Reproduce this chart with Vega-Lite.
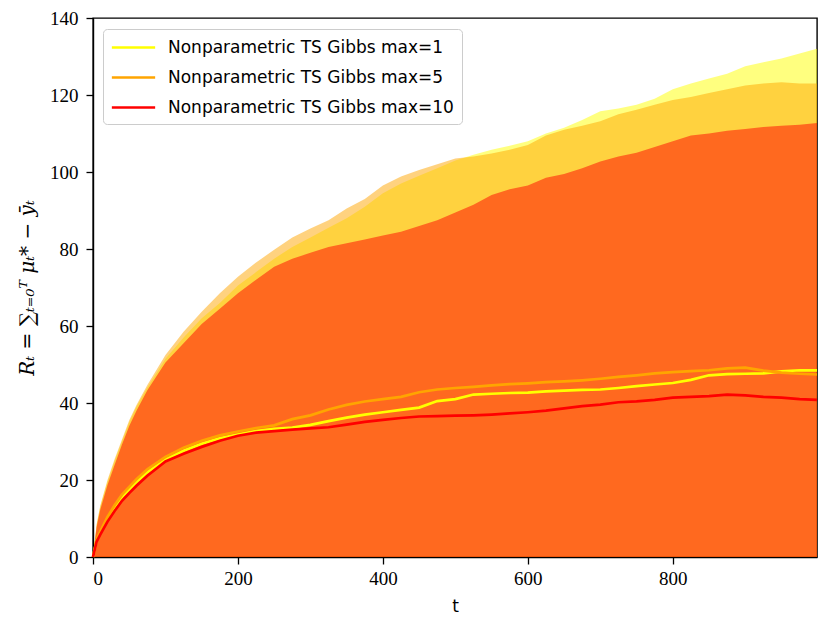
{
  "$schema": "https://vega.github.io/schema/vega-lite/v6.json",
  "width": 724,
  "height": 539,
  "autosize": "none",
  "padding": {"left": 93, "top": 18, "right": 14, "bottom": 74},
  "background": "white",
  "config": {
    "view": {"stroke": "black", "strokeWidth": 1.4},
    "axis": {
      "grid": false,
      "domainColor": "black",
      "domainWidth": 1.4,
      "tickColor": "black",
      "tickWidth": 1.3,
      "tickSize": 7,
      "labelFont": "Liberation Serif",
      "labelFontSize": 19,
      "labelColor": "black",
      "titleColor": "black",
      "titleFontWeight": "normal"
    }
  },
  "data": {
    "values": [
      {"t": 0, "m1": 0, "m5": 0, "m10": 0, "u1": 0, "u5": 0, "u10": 0},
      {"t": 5, "m1": 4.3, "m5": 4.5, "m10": 4.0, "u1": 8.3, "u5": 8.5, "u10": 7.8},
      {"t": 10, "m1": 6.3, "m5": 6.6, "m10": 5.8, "u1": 13, "u5": 13.3, "u10": 12.3},
      {"t": 20, "m1": 10, "m5": 10.4, "m10": 9.2, "u1": 19.5, "u5": 20, "u10": 18.7},
      {"t": 30, "m1": 13, "m5": 13.5, "m10": 12, "u1": 25, "u5": 25.5, "u10": 24},
      {"t": 40, "m1": 15.6, "m5": 16.2, "m10": 14.6, "u1": 30, "u5": 30.5, "u10": 29.2},
      {"t": 50, "m1": 17.6, "m5": 18.2, "m10": 16.6, "u1": 35, "u5": 35.5, "u10": 34},
      {"t": 60, "m1": 19.5, "m5": 20.2, "m10": 18.5, "u1": 39, "u5": 39.5, "u10": 38},
      {"t": 75, "m1": 22, "m5": 22.8, "m10": 21.1, "u1": 44, "u5": 44.7, "u10": 43.3},
      {"t": 100, "m1": 25.3, "m5": 26, "m10": 24.8, "u1": 51.5, "u5": 52.5, "u10": 50.5},
      {"t": 125, "m1": 27.6, "m5": 28.4, "m10": 26.8, "u1": 57, "u5": 58.5, "u10": 55.5},
      {"t": 150, "m1": 29.4, "m5": 30.2, "m10": 28.6, "u1": 62, "u5": 63.7, "u10": 60.5},
      {"t": 175, "m1": 30.8, "m5": 31.6, "m10": 30.2, "u1": 66, "u5": 68.5, "u10": 64.5},
      {"t": 200, "m1": 31.8, "m5": 32.6, "m10": 31.5, "u1": 70.5, "u5": 72.8, "u10": 68.5},
      {"t": 225, "m1": 32.7, "m5": 33.5, "m10": 32.3, "u1": 74, "u5": 76.5, "u10": 72},
      {"t": 250, "m1": 33.3, "m5": 34.2, "m10": 32.7, "u1": 77.5, "u5": 79.8, "u10": 75.4},
      {"t": 275, "m1": 33.6, "m5": 35.8, "m10": 33.1, "u1": 80.5, "u5": 83, "u10": 77.5},
      {"t": 300, "m1": 34.3, "m5": 36.8, "m10": 33.4, "u1": 83, "u5": 85.3, "u10": 79},
      {"t": 325, "m1": 35.3, "m5": 38.3, "m10": 33.7, "u1": 85.5, "u5": 87.5, "u10": 80.5},
      {"t": 350, "m1": 36.2, "m5": 39.5, "m10": 34.4, "u1": 88, "u5": 90.5, "u10": 81.5},
      {"t": 375, "m1": 37, "m5": 40.4, "m10": 35.1, "u1": 91, "u5": 93, "u10": 82.5},
      {"t": 400, "m1": 37.6, "m5": 41, "m10": 35.6, "u1": 94.5, "u5": 96.5, "u10": 83.5},
      {"t": 425, "m1": 38.2, "m5": 41.6, "m10": 36.1, "u1": 97, "u5": 98.8, "u10": 84.5},
      {"t": 450, "m1": 38.8, "m5": 42.8, "m10": 36.5, "u1": 99, "u5": 100.5, "u10": 86},
      {"t": 475, "m1": 40.5, "m5": 43.5, "m10": 36.6, "u1": 101, "u5": 102, "u10": 87.5},
      {"t": 500, "m1": 41, "m5": 43.9, "m10": 36.7, "u1": 103, "u5": 103.5, "u10": 89.5},
      {"t": 525, "m1": 42.2, "m5": 44.2, "m10": 36.8, "u1": 104.5, "u5": 104, "u10": 91.5},
      {"t": 550, "m1": 42.4, "m5": 44.6, "m10": 37, "u1": 105.8, "u5": 104.8, "u10": 94},
      {"t": 575, "m1": 42.6, "m5": 44.9, "m10": 37.3, "u1": 106.8, "u5": 105.8, "u10": 95.5},
      {"t": 600, "m1": 42.7, "m5": 45.1, "m10": 37.6, "u1": 108, "u5": 107, "u10": 96.5},
      {"t": 625, "m1": 43, "m5": 45.4, "m10": 38, "u1": 110, "u5": 109.5, "u10": 98.5},
      {"t": 650, "m1": 43.2, "m5": 45.6, "m10": 38.6, "u1": 111.5, "u5": 111, "u10": 99.5},
      {"t": 675, "m1": 43.4, "m5": 45.9, "m10": 39.2, "u1": 113.5, "u5": 112, "u10": 101},
      {"t": 700, "m1": 43.5, "m5": 46.3, "m10": 39.6, "u1": 115.8, "u5": 113.2, "u10": 102.7},
      {"t": 725, "m1": 43.9, "m5": 46.8, "m10": 40.2, "u1": 116.5, "u5": 115, "u10": 104},
      {"t": 750, "m1": 44.4, "m5": 47.2, "m10": 40.4, "u1": 117.5, "u5": 116.2, "u10": 105},
      {"t": 775, "m1": 44.8, "m5": 47.7, "m10": 40.8, "u1": 119, "u5": 117.5, "u10": 106.5},
      {"t": 800, "m1": 45.2, "m5": 48, "m10": 41.4, "u1": 121.5, "u5": 118.7, "u10": 108},
      {"t": 825, "m1": 46, "m5": 48.3, "m10": 41.6, "u1": 123, "u5": 119.5, "u10": 109.5},
      {"t": 850, "m1": 47.2, "m5": 48.5, "m10": 41.8, "u1": 124.3, "u5": 120.5, "u10": 110},
      {"t": 875, "m1": 47.5, "m5": 49, "m10": 42.2, "u1": 125.5, "u5": 121.5, "u10": 110.7},
      {"t": 900, "m1": 47.6, "m5": 49.2, "m10": 42, "u1": 127.5, "u5": 122.5, "u10": 111.2},
      {"t": 925, "m1": 47.7, "m5": 48.4, "m10": 41.6, "u1": 128.5, "u5": 123, "u10": 111.7},
      {"t": 950, "m1": 48.2, "m5": 47.9, "m10": 41.4, "u1": 129.5, "u5": 123.3, "u10": 112},
      {"t": 975, "m1": 48.5, "m5": 47.6, "m10": 41, "u1": 130.8, "u5": 123, "u10": 112.3},
      {"t": 999, "m1": 48.5, "m5": 47.4, "m10": 40.8, "u1": 132, "u5": 123, "u10": 112.7}
    ]
  },
  "encoding": {
    "x": {
      "field": "t",
      "type": "quantitative",
      "scale": {"domain": [0, 999], "nice": false},
      "axis": {
        "values": [0, 200, 400, 600, 800],
        "labelPadding": 5,
        "title": "t",
        "titleFont": "DejaVu Sans",
        "titleFontSize": 17,
        "titlePadding": 10
      }
    }
  },
  "layer": [
    {
      "mark": {"type": "area", "color": "#ffff00", "opacity": 0.5},
      "encoding": {
        "y": {
          "field": "u1",
          "type": "quantitative",
          "scale": {"domain": [0, 140], "nice": false},
          "axis": {
            "values": [0, 20, 40, 60, 80, 100, 120, 140],
            "labelPadding": 8,
            "title": "Rₜ = ∑ₜ₌₀ᵀ μₜ* − ȳₜ",
            "titleFont": "DejaVu Serif",
            "titleFontStyle": "italic",
            "titleFontSize": 20,
            "titlePadding": 12
          }
        }
      }
    },
    {
      "mark": {"type": "area", "color": "#ffa500", "opacity": 0.5},
      "encoding": {"y": {"field": "u5", "type": "quantitative"}}
    },
    {
      "mark": {"type": "area", "color": "#ff0000", "opacity": 0.5},
      "encoding": {"y": {"field": "u10", "type": "quantitative"}}
    },
    {
      "transform": [{"fold": ["m1", "m5", "m10"], "as": ["run", "mean"]}],
      "mark": {"type": "line", "strokeWidth": 2.7},
      "encoding": {
        "y": {"field": "mean", "type": "quantitative"},
        "color": {
          "field": "run",
          "type": "nominal",
          "scale": {"domain": ["m1", "m5", "m10"], "range": ["#ffff00", "#ffa500", "#ff0000"]},
          "legend": {
            "title": null,
            "orient": "none",
            "legendX": 10,
            "legendY": 11,
            "fillColor": "white",
            "strokeColor": "#cccccc",
            "cornerRadius": 4,
            "padding": 8,
            "rowPadding": 11,
            "symbolType": "M-2.5,0H2.5",
            "symbolSize": 300,
            "symbolOffset": 12,
            "symbolStrokeWidth": 2.7,
            "labelOffset": 24,
            "labelFont": "DejaVu Sans",
            "labelFontSize": 17,
            "labelColor": "black",
            "labelLimit": 400,
            "labelExpr": "'Nonparametric TS Gibbs max=' + replace(datum.label, 'm', '')"
          }
        }
      }
    }
  ]
}
